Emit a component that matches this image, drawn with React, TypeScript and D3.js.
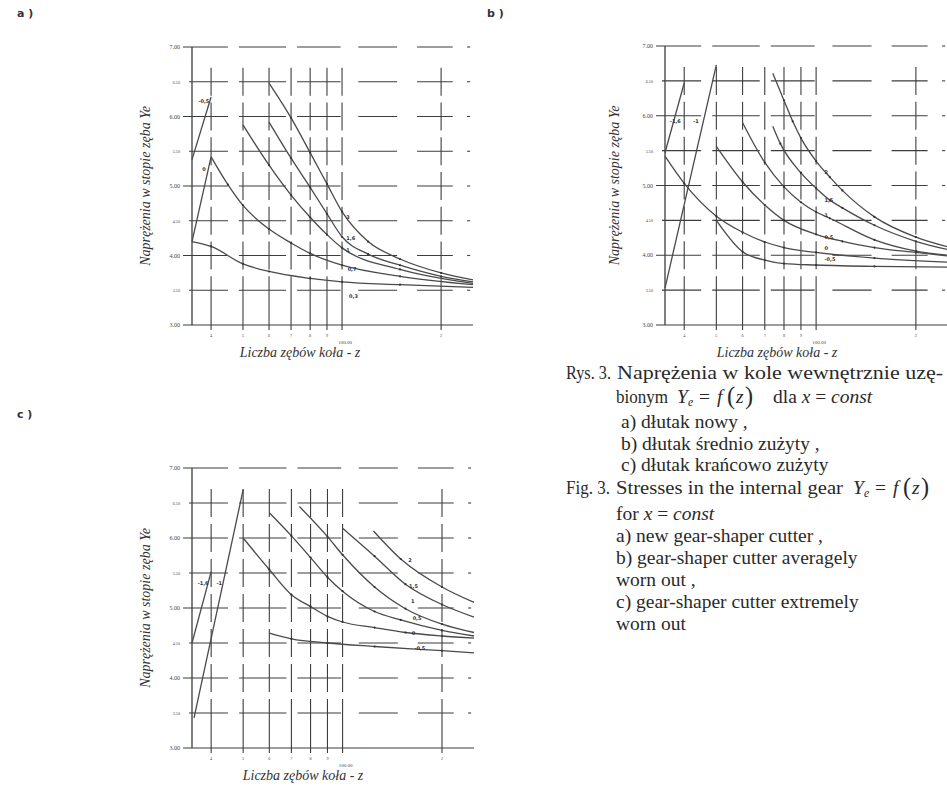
import React from "react";
import * as d3 from "d3";

type P = [number, number];

// ---------- axes / ticks ----------
const Z_DOMAIN: P = [35, 250];
const Y_DOMAIN: P = [3, 7];
const Y_LEVELS = [3.5, 4.0, 4.5, 5.0, 5.5, 6.0, 6.5, 7.0];
const Y_TICK_LABELS = ["3.00", "3.50", "4.00", "4.50", "5.00", "5.50", "6.00", "6.50", "7.00"];
const X_TICKS = [40, 50, 60, 70, 80, 90, 100, 200];
const X_TICK_LABELS = ["4", "5", "6", "7", "8", "9", "100.00", "2"];
// broken horizontal grid segments (z ranges)
const H_SEGMENTS: P[] = [[35.4, 45], [48.6, 67.6], [73, 99], [112, 147], [169, 217], [240, 245]];

// ---------- panel a : new cutter ----------
const A_XM05: P[] = [[35, 5.38], [40, 6.28]];
const A_X0_RISE: P[] = [[35, 4.2], [40, 5.42]];
const A_X0: P[] = [[40, 5.42], [45, 5.02], [50, 4.72], [60, 4.38], [70, 4.18], [80, 4.03], [100, 3.86], [150, 3.7], [250, 3.58]];
const A_X03: P[] = [[35, 4.2], [40, 4.13], [50, 3.88], [60, 3.77], [80, 3.67], [100, 3.62], [150, 3.58], [250, 3.54]];
const A_X1: P[] = [[50, 5.88], [60, 5.3], [70, 4.87], [80, 4.55], [90, 4.3], [100, 4.11], [150, 3.8], [250, 3.6]];
const A_X16: P[] = [[60, 5.92], [70, 5.4], [80, 4.98], [90, 4.6], [100, 4.27], [120, 4.02], [150, 3.86], [200, 3.7], [250, 3.62]];
const A_X3: P[] = [[60, 6.48], [70, 5.98], [80, 5.48], [90, 5.03], [100, 4.63], [120, 4.2], [150, 3.95], [200, 3.75], [250, 3.65]];
const A_RISING = [A_XM05, A_X0_RISE];
const A_CURVES = [A_X0, A_X03, A_X1, A_X16, A_X3];
const A_LABELS = ["-0,5", "0", "3", "1,6", "1", "0,7", "0,3"];
const A_LABEL_POS: P[] = [[36.6, 6.22], [37.6, 5.24], [103, 4.56], [103, 4.25], [103, 4.08], [104, 3.8], [105, 3.42]];

// ---------- panel b : averagely worn cutter ----------
const B_XM16: P[] = [[35, 5.47], [40, 6.47]];
const B_XM1: P[] = [[35, 3.53], [50, 6.73]];
const B_X2: P[] = [[74, 6.61], [80, 6.22], [85, 5.92], [90, 5.68], [100, 5.35], [110, 5.12], [120, 4.93], [150, 4.55], [200, 4.26], [250, 4.12]];
const B_X15: P[] = [[74, 5.85], [78, 5.6], [90, 5.18], [100, 4.96], [110, 4.79], [120, 4.68], [150, 4.43], [200, 4.2], [250, 4.08]];
const B_X1: P[] = [[60, 5.9], [70, 5.33], [80, 4.98], [90, 4.76], [100, 4.62], [110, 4.53], [150, 4.22], [200, 4.06], [250, 4.0]];
const B_X05: P[] = [[50, 5.56], [60, 5.05], [70, 4.72], [80, 4.5], [100, 4.3], [120, 4.2], [150, 4.11], [200, 4.04], [250, 3.99]];
const B_X0: P[] = [[35, 5.42], [40, 5.03], [50, 4.56], [60, 4.33], [70, 4.19], [80, 4.11], [100, 4.04], [150, 3.96], [250, 3.9]];
const B_XM05: P[] = [[50, 4.5], [60, 4.05], [70, 3.93], [80, 3.88], [100, 3.86], [150, 3.84], [250, 3.83]];
const B_RISING = [B_XM16, B_XM1];
const B_CURVES = [B_X2, B_X15, B_X1, B_X05, B_X0, B_XM05];
const B_LABELS = ["-1,6", "-1", "2", "1,5", "1", "0,5", "0", "-0,5"];
const B_LABEL_POS: P[] = [[36.2, 5.92], [42.6, 5.92], [106, 5.2], [106, 4.79], [106, 4.58], [106, 4.26], [106, 4.1], [106, 3.95]];

// ---------- panel c : extremely worn cutter ----------
const C_XM16: P[] = [[35, 4.5], [40, 5.52]];
const C_XM1: P[] = [[35.5, 3.43], [50, 6.69]];
const C_X0: P[] = [[50, 6.0], [60, 5.55], [70, 5.19], [80, 5.02], [90, 4.88], [100, 4.8], [125, 4.72], [155, 4.65], [200, 4.6], [250, 4.57]];
const C_X05: P[] = [[60, 6.36], [70, 6.03], [80, 5.72], [90, 5.44], [100, 5.24], [125, 4.95], [150, 4.83], [200, 4.68], [250, 4.6]];
const C_X1: P[] = [[74, 6.45], [90, 6.02], [100, 5.76], [125, 5.3], [155, 4.99], [200, 4.77], [250, 4.65]];
const C_X15: P[] = [[100, 6.14], [125, 5.74], [155, 5.34], [200, 5.05], [250, 4.87]];
const C_X2: P[] = [[124, 6.1], [150, 5.7], [200, 5.3], [250, 5.08]];
const C_XM05: P[] = [[60, 4.64], [70, 4.56], [90, 4.5], [125, 4.45], [200, 4.39], [250, 4.36]];
const C_RISING = [C_XM16, C_XM1];
const C_CURVES = [C_X0, C_X05, C_X1, C_X15, C_X2, C_XM05];
const C_LABELS = ["-1,6", "-1", "2", "1,5", "1", "0,5", "0", "-0,5"];
const C_LABEL_POS: P[] = [[36.4, 5.36], [41.5, 5.36], [158, 5.69], [159, 5.31], [161, 5.1], [163, 4.86], [162, 4.64], [165, 4.43]];

// ---------- captions ----------
const Y_TITLE = "Naprężenia w stopie zęba Ye";
const X_TITLE = "Liczba zębów koła - z";
const PL_LINES = ["a) dłutak nowy ,", "b) dłutak średnio zużyty ,", "c) dłutak krańcowo zużyty"];
const EN_LINES = ["a) new gear-shaper cutter ,", "b) gear-shaper cutter averagely", "worn out ,", "c) gear-shaper cutter extremely", "worn out"];

const INK = "#3d3d3d";
const SERIF = "'Liberation Serif', 'DejaVu Serif', serif";

interface PanelProps {
  left: number; right: number; top: number; bottom: number;
  rising: P[][]; curves: P[][]; labels: string[]; labelPos: P[];
  letter: string; letterX: number; letterY: number;
  yTitleX: number; xTitleX: number;
}

function Panel(p: PanelProps) {
  const x = d3.scaleLog().domain(Z_DOMAIN).range([p.left, p.right]);
  const y = d3.scaleLinear().domain(Y_DOMAIN).range([p.bottom, p.top]);
  const line = d3.line<P>().x(d => x(d[0])).y(d => y(d[1])).curve(d3.curveMonotoneX);
  const straight = d3.line<P>().x(d => x(d[0])).y(d => y(d[1]));
  const grid: JSX.Element[] = [];
  Y_LEVELS.forEach((lv, i) => {
    const yy = y(lv);
    const major = Math.abs(lv - Math.round(lv)) < 1e-6;
    H_SEGMENTS.forEach((s, j) => {
      const xs = j === 0 ? p.left - (major ? 9 : 3) : x(s[0]);
      grid.push(<line key={`h${i}-${j}`} x1={xs} x2={Math.min(x(s[1]), p.right)} y1={yy} y2={yy} stroke={INK} strokeWidth={1.1} />);
    });
  });
  X_TICKS.forEach((t, i) => {
    const xx = x(t);
    Y_LEVELS.forEach((lv, j) => {
      if (lv >= 7) return;
      const yy = y(lv);
      const y2 = lv === 3.5 ? p.bottom + 5 : yy + 14;
      grid.push(<line key={`v${i}-${j}`} x1={xx} x2={xx} y1={yy - 14} y2={y2} stroke={INK} strokeWidth={1.1} />);
    });
  });
  const xTickY = p.bottom + 12;
  return (
    <g>
      <text x={p.letterX} y={p.letterY} fontFamily="'DejaVu Sans', sans-serif" fontWeight="bold" fontSize={11} fill="#333">{p.letter}</text>
      {grid}
      <line x1={p.left} x2={p.left} y1={p.top} y2={p.bottom} stroke={INK} strokeWidth={1.3} />
      <line x1={p.left - 9} x2={p.right} y1={p.bottom} y2={p.bottom} stroke={INK} strokeWidth={1.2} />
      {Y_TICK_LABELS.map((lab, i) => {
        const v = 3 + i * 0.5;
        const major = i % 2 === 0;
        return (
          <text key={lab} x={p.left - 12} y={y(v) + 2} textAnchor="end" fontFamily={SERIF} fontSize={major ? 6 : 4.2} fill="#444">{lab}</text>
        );
      })}
      {X_TICKS.map((t, i) => (
        <text key={t} x={x(t) + (t === 100 ? 3 : 0)} y={t === 100 ? xTickY + 7 : xTickY} textAnchor="middle" fontFamily={SERIF} fontSize={t === 100 ? 5 : 4.2} fill="#444">{X_TICK_LABELS[i]}</text>
      ))}
      {p.rising.map((c, i) => (
        <path key={`r${i}`} d={straight(c) || ""} fill="none" stroke="#4a4a4a" strokeWidth={1.3} />
      ))}
      {p.curves.map((c, i) => (
        <g key={`c${i}`}>
          <path d={line(c) || ""} fill="none" stroke="#4a4a4a" strokeWidth={1.3} />
          {c.slice(1, -1).map((d, k) => (
            <circle key={k} cx={x(d[0])} cy={y(d[1])} r={1.1} fill="#333" />
          ))}
        </g>
      ))}
      {p.labels.map((lab, i) => (
        <text key={`l${i}`} x={x(p.labelPos[i][0])} y={y(p.labelPos[i][1]) + 2} fontFamily="'DejaVu Sans', sans-serif" fontWeight="bold" fontSize={5} fill="#333">{lab}</text>
      ))}
      <text transform={`translate(${p.yTitleX},${(p.top + p.bottom) / 2}) rotate(-90)`} textAnchor="middle" fontFamily={SERIF} fontStyle="italic" fontSize={14} fill="#333">{Y_TITLE}</text>
      <text x={p.xTitleX} y={p.bottom + 32} textAnchor="middle" fontFamily={SERIF} fontStyle="italic" fontSize={14} fill="#333">{X_TITLE}</text>
    </g>
  );
}

function Formula({ x, y, size }: { x: number; y: number; size: number }) {
  const t = { fontFamily: SERIF, fontSize: size, fill: "#2a2a2a" } as const;
  return (
    <g>
      <text x={x} y={y} {...t} fontStyle="italic">Y</text>
      <text x={x + 11} y={y + 3} {...t} fontSize={size * 0.6} fontStyle="italic">e</text>
      <text x={x + 22} y={y} {...t}>=</text>
      <text x={x + 40} y={y} {...t} fontStyle="italic">f</text>
      <text x={x + 50} y={y + 1} {...t} fontSize={size * 1.25}>(</text>
      <text x={x + 59} y={y} {...t} fontStyle="italic">z</text>
      <text x={x + 68} y={y + 1} {...t} fontSize={size * 1.25}>)</text>
    </g>
  );
}

export default function App() {
  const fs = 19.5;
  const txt = { fontFamily: SERIF, fontSize: fs, fill: "#2a2a2a" } as const;
  return (
    <svg width={947} height={792} viewBox="0 0 947 792" style={{ display: "block", background: "#fff", position: "absolute", left: 0, top: 0 }}>
      <rect width={947} height={792} fill="#fff" />
      <Panel left={192} right={473} top={47} bottom={325} rising={A_RISING} curves={A_CURVES} labels={A_LABELS} labelPos={A_LABEL_POS}
        letter="a )" letterX={17} letterY={17} yTitleX={150} xTitleX={300} />
      <Panel left={665} right={948} top={46} bottom={325} rising={B_RISING} curves={B_CURVES} labels={B_LABELS} labelPos={B_LABEL_POS}
        letter="b )" letterX={487} letterY={17} yTitleX={619} xTitleX={777} />
      <Panel left={192} right={474} top={468} bottom={748} rising={C_RISING} curves={C_CURVES} labels={C_LABELS} labelPos={C_LABEL_POS}
        letter="c )" letterX={17} letterY={418} yTitleX={150} xTitleX={303} />

      {/* caption */}
      <text x={566} y={379} {...txt} textLength={45} lengthAdjust="spacingAndGlyphs">Rys. 3.</text>
      <text x={617} y={379} {...txt} textLength={326} lengthAdjust="spacingAndGlyphs">Naprężenia w kole wewnętrznie uzę-</text>
      <text x={616} y={403} {...txt} textLength={52} lengthAdjust="spacingAndGlyphs">bionym</text>
      <Formula x={677} y={403} size={fs} />
      <text x={773} y={403} {...txt}>dla <tspan fontStyle="italic">x</tspan> = <tspan fontStyle="italic">const</tspan></text>
      {PL_LINES.map((l, i) => (
        <text key={l} x={621} y={428 + i * 21.5} {...txt}>{l}</text>
      ))}
      <text x={566} y={494} {...txt} textLength={44} lengthAdjust="spacingAndGlyphs">Fig. 3.</text>
      <text x={616} y={494} {...txt} textLength={227} lengthAdjust="spacingAndGlyphs">Stresses in the internal gear</text>
      <Formula x={853} y={494} size={fs} />
      <text x={616} y={520} {...txt}>for <tspan fontStyle="italic">x</tspan> = <tspan fontStyle="italic">const</tspan></text>
      {EN_LINES.map((l, i) => (
        <text key={i} x={616} y={542 + i * 22} {...txt}>{l}</text>
      ))}
    </svg>
  );
}
